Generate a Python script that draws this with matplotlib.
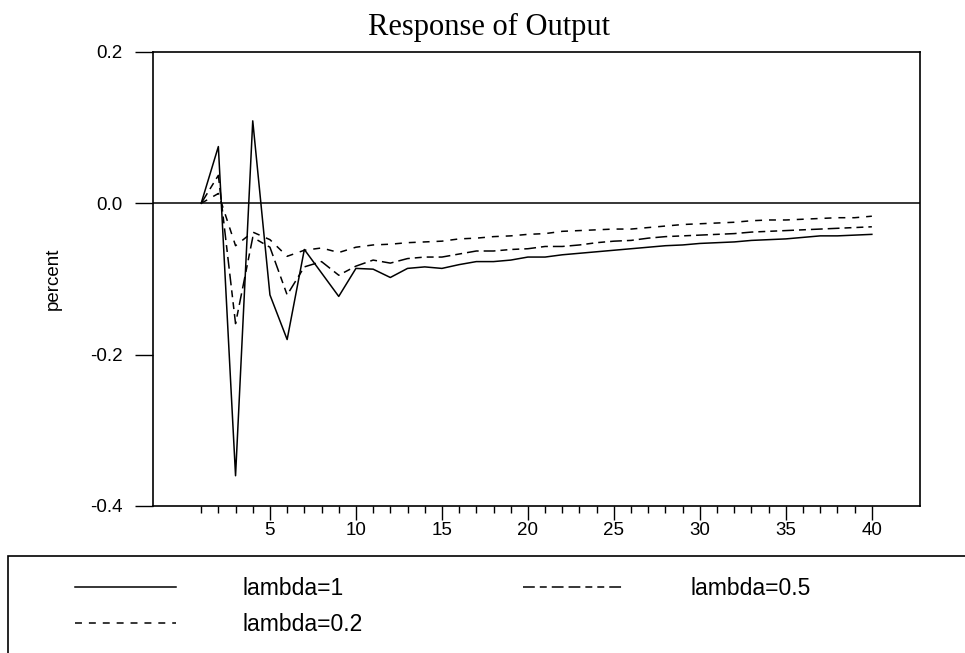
import numpy as np
import matplotlib
matplotlib.use("Agg")
import matplotlib.pyplot as plt
from matplotlib.ticker import FixedLocator
from matplotlib.patches import Rectangle

plt.rcParams['font.family'] = ['Liberation Sans', 'DejaVu Sans']
plt.rcParams['axes.unicode_minus'] = False
plt.rcParams['lines.scale_dashes'] = False

# horizon (periods after the shock)
periods = list(range(1, 41))

# impulse responses
lam_1 = [0.0, 0.075, -0.36, 0.109, -0.121, -0.180, -0.061, -0.092, -0.123, -0.086,
         -0.087, -0.098, -0.086, -0.084, -0.086, -0.081, -0.077, -0.077, -0.075, -0.071,
         -0.071, -0.068, -0.066, -0.064, -0.062, -0.060, -0.058, -0.056, -0.055, -0.053,
         -0.052, -0.051, -0.049, -0.048, -0.047, -0.045, -0.043, -0.043, -0.042, -0.041]
lam_05 = [0.0, 0.037, -0.159, -0.045, -0.058, -0.121, -0.084, -0.077, -0.095, -0.083,
          -0.075, -0.079, -0.073, -0.071, -0.071, -0.067, -0.063, -0.063, -0.061, -0.060,
          -0.057, -0.057, -0.055, -0.052, -0.050, -0.049, -0.046, -0.044, -0.043, -0.042,
          -0.041, -0.040, -0.038, -0.037, -0.036, -0.035, -0.034, -0.033, -0.032, -0.031]
lam_02 = [0.0, 0.013, -0.056, -0.038, -0.048, -0.070, -0.062, -0.059, -0.065, -0.058,
          -0.055, -0.054, -0.052, -0.051, -0.050, -0.047, -0.046, -0.044, -0.043, -0.041,
          -0.040, -0.037, -0.036, -0.035, -0.034, -0.034, -0.032, -0.030, -0.028, -0.027,
          -0.026, -0.025, -0.023, -0.022, -0.022, -0.021, -0.020, -0.019, -0.019, -0.017]

labels = ["lambda=1", "lambda=0.5", "lambda=0.2"]

fig = plt.figure(figsize=(9.65, 6.53), dpi=100)
ax = fig.add_axes([153/965, 1-506/653, 767/965, 454/653])

l1, = ax.plot(periods, lam_1, color='black', lw=1.1, label=labels[0])
l2, = ax.plot(periods, lam_05, color='black', lw=1.1, label=labels[1],
              dashes=(8.5, 3.6, 5, 3.6, 8.5, 3.6, 8.5, 3.6, 5, 3.6, 5, 3.6))
l3, = ax.plot(periods, lam_02, color='black', lw=1.1, label=labels[2],
              dashes=(5, 5))
ax.axhline(0, color='black', lw=1.1)

ax.set_xlim(-1.8, 42.8)
ax.set_ylim(-0.4, 0.2)
ax.set_yticks([-0.4, -0.2, 0.0, 0.2])
ax.set_yticklabels(["-0.4", "-0.2", "0.0", "0.2"])
ax.xaxis.set_major_locator(FixedLocator([5, 10, 15, 20, 25, 30, 35, 40]))
ax.xaxis.set_minor_locator(FixedLocator(periods))
ax.tick_params(axis='y', length=13, width=1, pad=9, labelsize=13.5, direction='out')
ax.tick_params(axis='x', which='major', length=10, width=1, pad=1.5, labelsize=13.5, direction='out')
ax.tick_params(axis='x', which='minor', length=5, width=1, direction='out')
for s in ax.spines.values():
    s.set_linewidth(1.2)

ax.set_ylabel("percent", fontsize=13.5)
ax.yaxis.set_label_coords(-0.119, 0.5)

fig.text(489/965, 1-35/653, "Response of Output", ha='center', va='baseline',
         fontsize=22, family='Liberation Serif')

# legend box runs off the bottom/right of the figure
fig.patches.append(Rectangle((8/965, -0.2), 1.2, (1-556/653)+0.2, transform=fig.transFigure,
                             fill=False, lw=1.2, edgecolor='black', clip_on=False))
fig.legend([l1, l3, l2], [labels[0], labels[2], labels[1]], ncol=2, frameon=False,
           loc='upper left', bbox_to_anchor=(75/965, 1-577/653), borderpad=0,
           borderaxespad=0, fontsize=16.5, handlelength=4.4, handletextpad=2.9,
           columnspacing=7.0, labelspacing=0.55)

plt.savefig("out.png", dpi=100)
